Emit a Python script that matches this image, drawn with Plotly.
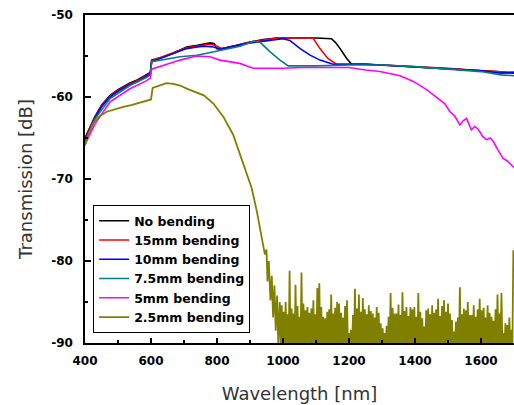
import plotly.graph_objects as go

# ---------------- data ----------------
series_names = ["No bending", "15mm bending", "10mm bending",
                "7.5mm bending", "5mm bending", "2.5mm bending"]
series_colors = ["#000000", "#ff0000", "#0000ff", "#008080", "#ff00ff", "#808000"]

x_ticks = [400, 600, 800, 1000, 1200, 1400, 1600]
y_ticks = [-50, -60, -70, -80, -90]

black_wl = [400, 415, 430, 450, 476, 500, 536, 560, 587, 598, 602, 630, 658, 680, 708,
            740, 769, 780, 792, 800, 815, 829, 860, 900, 940, 981, 1030, 1100, 1147,
            1160, 1173, 1185, 1193, 1208, 1250, 1300, 1395, 1500, 1597, 1650, 1700]
black_db = [-65.0, -63.6, -62.4, -61.0, -59.8, -59.1, -58.3, -57.9, -57.3, -57.0, -55.5,
            -55.2, -54.8, -54.4, -53.9, -53.7, -53.5, -53.4, -53.5, -54.1, -54.1, -54.0,
            -53.7, -53.3, -53.0, -52.8, -52.8, -52.8, -52.9, -53.4, -54.1, -54.8, -55.3,
            -56.0, -56.0, -56.1, -56.3, -56.5, -56.7, -56.9, -57.1]

red_wl = [400, 415, 430, 450, 476, 500, 536, 560, 587, 598, 602, 630, 658, 680, 708,
          740, 769, 785, 800, 815, 840, 900, 981, 1091, 1112, 1136, 1162, 1250, 1300,
          1395, 1500, 1600, 1700]
red_db = [-65.1, -63.7, -62.5, -61.1, -59.9, -59.2, -58.4, -58.0, -57.4, -57.1, -55.6,
          -55.2, -54.8, -54.4, -54.0, -53.8, -53.6, -53.6, -53.8, -54.1, -53.9, -53.3,
          -52.8, -52.8, -54.1, -55.3, -56.0, -56.0, -56.1, -56.3, -56.5, -56.8, -57.0]

blue_wl = [400, 415, 430, 450, 476, 500, 536, 560, 587, 598, 602, 630, 658, 680, 708,
           740, 760, 790, 810, 850, 900, 1000, 1021, 1052, 1082, 1112, 1152, 1250,
           1395, 1500, 1600, 1660, 1700]
blue_db = [-65.3, -63.9, -62.6, -61.2, -60.0, -59.3, -58.5, -58.1, -57.5, -57.2, -55.7,
           -55.3, -54.9, -54.5, -54.1, -53.9, -53.8, -53.9, -54.2, -53.8, -53.4, -52.9,
           -53.1, -54.1, -54.9, -55.5, -56.0, -56.0, -56.3, -56.6, -56.8, -57.1, -57.0]

teal_wl = [400, 430, 476, 536, 587, 598, 602, 650, 688, 740, 788, 809, 870, 910, 930,
           961, 991, 1016, 1100, 1200, 1300, 1400, 1500, 1600, 1660, 1700]
teal_db = [-65.5, -62.7, -60.2, -58.6, -57.6, -57.3, -55.7, -55.4, -55.1, -54.9, -54.5,
           -54.3, -53.8, -53.2, -53.3, -54.5, -55.5, -56.2, -56.2, -56.1, -56.1, -56.3,
           -56.6, -56.9, -57.3, -57.4]

magenta_wl = [400, 430, 476, 536, 587, 598, 602, 650, 688, 738, 779, 809, 839, 869, 910,
              1000, 1060, 1200, 1250, 1294, 1355, 1395, 1435, 1476, 1490, 1506, 1520,
              1536, 1546, 1556, 1571, 1581, 1591, 1605, 1617, 1628, 1637, 1652, 1667,
              1680, 1693, 1700]
magenta_db = [-65.8, -63.3, -60.6, -59.0, -58.0, -57.7, -56.6, -56.0, -55.5, -55.0, -55.1,
              -55.5, -55.7, -55.9, -56.5, -56.5, -56.4, -56.4, -56.7, -56.9, -57.4, -58.1,
              -59.1, -60.4, -60.8, -61.8, -62.3, -63.4, -62.9, -62.6, -64.0, -63.6, -63.9,
              -64.8, -65.2, -65.0, -65.4, -66.5, -67.5, -67.8, -68.3, -68.6]

olive_wl = [400, 412, 425, 445, 466, 490, 516, 540, 567, 591, 600, 605, 625, 647, 668,
            688, 710, 738, 760, 789, 819, 849, 879, 905, 920, 940, 945, 950, 953, 957,
            962, 966, 970, 974, 978, 982, 986, 990, 994]
olive_db = [-65.9, -64.4, -63.2, -62.3, -61.8, -61.5, -61.2, -61.0, -60.7, -60.4, -60.3,
            -58.9, -58.6, -58.3, -58.4, -58.6, -59.0, -59.4, -59.8, -60.8, -62.4, -64.6,
            -68.0, -71.1, -73.8, -78.3, -79.2, -78.6, -82.5, -80.0, -84.8, -81.8, -86.9,
            -83.0, -88.5, -84.2, -90.5, -85.0, -91.0]

# noise floor of the 2.5 mm curve: spike tops, one every 6 nm from 996 nm
olive_noise_start = 996
olive_noise_step = 6
olive_noise_peaks = [
    -85.4, -86.2, -85.0, -86.5, -81.2, -85.8, -86.4, -82.9, -85.5, -86.8,
    -81.4, -85.2, -86.0, -85.6, -86.3, -85.8, -84.8, -86.5, -83.3, -82.7,
    -85.6, -86.8, -87.0, -86.2, -85.9, -84.1, -86.4, -85.7, -85.0, -85.2,
    -86.3, -86.9, -85.5, -84.8, -88.8, -88.4, -86.6, -83.4, -85.8, -84.1,
    -86.2, -84.5, -85.9, -86.5, -85.4, -86.1, -86.4, -86.9, -85.6, -86.3,
    -87.6, -88.2, -88.8, -87.9, -86.8, -83.9, -85.7, -86.4, -86.4, -85.3,
    -86.6, -83.8, -86.1, -85.6, -86.7, -85.6, -85.9, -85.6, -86.8, -83.9,
    -86.2, -87.0, -88.0, -86.0, -85.8, -86.5, -85.4, -86.3, -85.9, -84.6,
    -86.7, -85.5, -84.8, -86.2, -85.2, -86.4, -87.2, -88.6, -87.4, -86.9,
    -83.2, -86.5, -85.8, -86.0, -85.0, -86.6, -86.6, -85.4, -86.8, -85.9,
    -84.6, -86.0, -85.7, -86.9, -85.4, -86.3, -86.8, -87.3, -85.9, -84.1,
    -86.4, -83.9, -88.8, -87.6, -87.8, -86.9, -88.4, -78.7]
olive_noise_floor = -91.0

# ---------------- build the noise comb ----------------
noise_wl, noise_db = [], []
for k, p in enumerate(olive_noise_peaks):
    w = olive_noise_start + olive_noise_step * k
    noise_wl.append(w)
    noise_db.append(p)
    if k < len(olive_noise_peaks) - 1:
        noise_wl.append(w + olive_noise_step / 2)
        noise_db.append(olive_noise_floor)

all_wl = [black_wl, red_wl, blue_wl, teal_wl, magenta_wl, olive_wl + noise_wl]
all_db = [black_db, red_db, blue_db, teal_db, magenta_db, olive_db + noise_db]
line_widths = [1.6, 1.6, 1.6, 1.6, 1.6, 1.8]

fig = go.Figure()
for name, col, xs, ys, lw in zip(series_names, series_colors, all_wl, all_db, line_widths):
    fig.add_trace(go.Scatter(x=xs, y=ys, mode="lines", name=name,
                             line=dict(color=col, width=lw)))

tick_font = dict(family="DejaVu Sans", size=12, color="black", weight="bold")
title_font = dict(family="DejaVu Sans", size=18, color="#333333")

fig.update_layout(
    width=514, height=405,
    margin=dict(l=85, r=0, t=15, b=62),
    paper_bgcolor="white", plot_bgcolor="white",
    showlegend=True,
    legend=dict(x=0.019, y=0.03, xanchor="left", yanchor="bottom",
                bordercolor="black", borderwidth=1, bgcolor="white",
                font=dict(family="DejaVu Sans", size=12.5, color="black", weight="bold"),
                tracegroupgap=0, itemwidth=30),
)
fig.update_xaxes(
    range=[400, 1700], tickvals=x_ticks, ticktext=[str(v) for v in x_ticks],
    ticks="inside", ticklen=5, tickwidth=1.5, tickcolor="black",
    minor=dict(dtick=100, tick0=400, ticks="inside", ticklen=3, tickcolor="black"),
    showline=True, linecolor="black", linewidth=1.5, mirror=True,
    showgrid=False, zeroline=False, tickfont=tick_font, ticklabelstandoff=6,
    automargin=False,
    title=dict(text="Wavelength [nm]", font=title_font, standoff=20),
)
fig.update_yaxes(
    range=[-90, -50], tickvals=y_ticks, ticktext=[str(v) for v in y_ticks],
    ticks="inside", ticklen=6, tickwidth=1.5, tickcolor="black",
    minor=dict(dtick=5, tick0=-90, ticks="inside", ticklen=3, tickcolor="black"),
    showline=True, linecolor="black", linewidth=1.5, mirror=False,
    showgrid=False, zeroline=False, tickfont=tick_font, ticklabelstandoff=8,
    automargin=False,
    title=dict(text="Transmission [dB]", font=title_font, standoff=14),
)

fig.write_html("out.html", config={"displayModeBar": False},
               post_script="document.body.style.margin='0';"
                           "document.body.style.overflow='hidden';")
